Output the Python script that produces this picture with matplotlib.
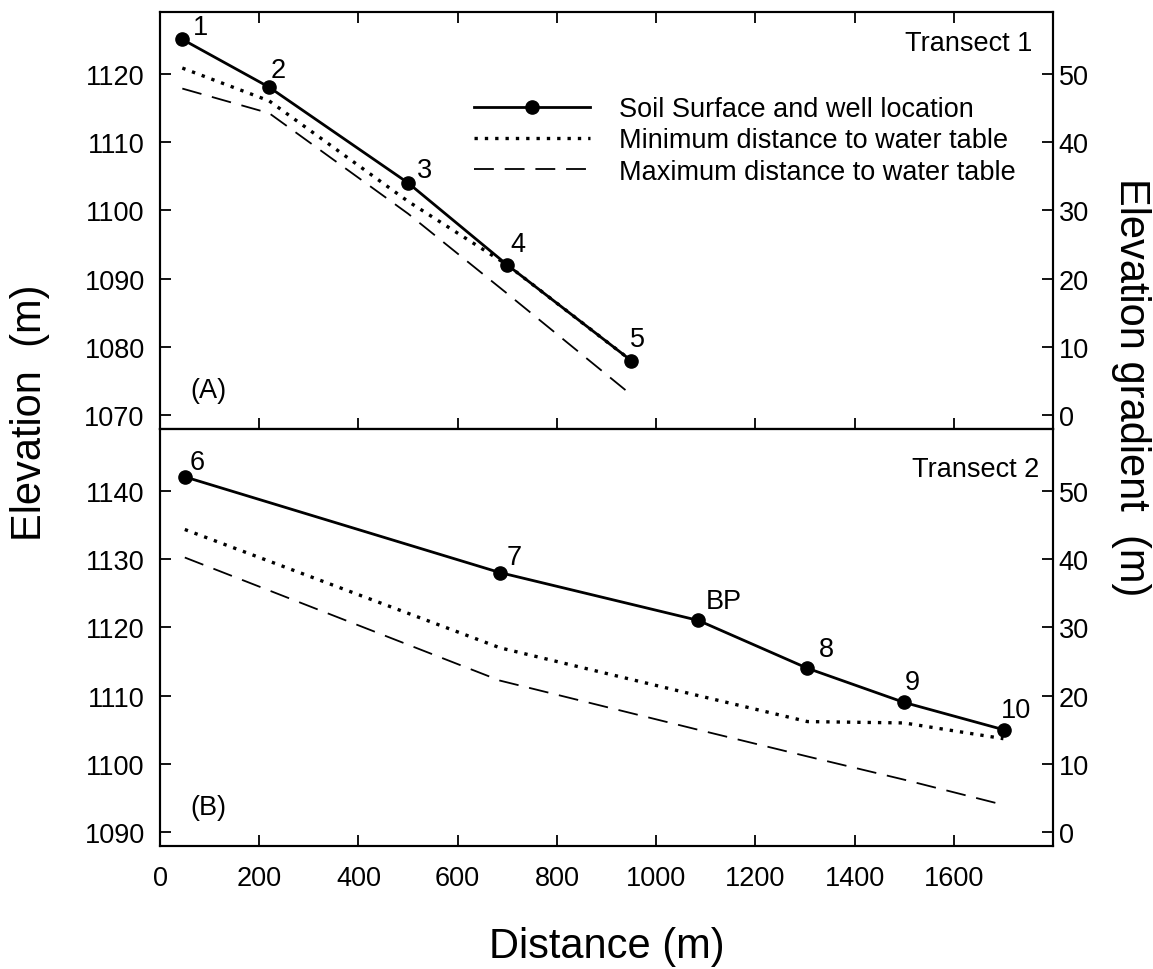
import matplotlib

matplotlib.use('Agg')
import matplotlib.pyplot as plt

plt.rcParams['font.family'] = ['Liberation Sans', 'DejaVu Sans']

# Transect 1: soil surface at the wells and water table envelope
t1_dist = [45, 220, 500, 700, 950]
t1_elev = [1125, 1118, 1104, 1092, 1078]
t1_wells = ['1', '2', '3', '4', '5']
t1_min_wt = [1120.8, 1116.0, 1101.3, 1092.0, 1078.0]
t1_max_wt = [1117.8, 1114.2, 1099.5, 1087.8, 1073.0]

# Transect 2
t2_dist = [50, 685, 1085, 1305, 1500, 1701]
t2_elev = [1142, 1128, 1121, 1114, 1109, 1105]
t2_wells = ['6', '7', 'BP', '8', '9', '10']
t2_min_dist = [50, 685, 1085, 1305, 1500, 1700]
t2_min_wt = [1134.3, 1117.0, 1110.0, 1106.2, 1106.0, 1103.7]
t2_max_dist = [50, 685, 1085, 1305, 1500, 1690]
t2_max_wt = [1130.2, 1112.2, 1105.0, 1101.1, 1097.7, 1094.2]

# elevation gradient axis = elevation - base
t1_base = 1070
t2_base = 1090

# pixel offsets of the well labels
t1_label_off = [(18, 12), (9, 17), (16, 13), (11, 21), (6, 22)]
t2_label_off = [(12, 15), (14, 16), (25, 19), (19, 19), (8, 20), (12, 20)]

FS = 19.5
W, H = 1153, 970


def fig_box(left, top, right, bottom):
    return [left / W, 1 - bottom / H, (right - left) / W, (bottom - top) / H]


def draw_panel(ax, dist, elev, wells, offs, min_dist, min_wt, max_dist, max_wt):
    ax.plot(dist, elev, color='black', linewidth=2.0, marker='o', markersize=9.5,
            label='Soil Surface and well location', zorder=3)
    ax.plot(min_dist, min_wt, color='black', linewidth=2.4, linestyle=(0, (1, 2.1)),
            label='Minimum distance to water table')
    ax.plot(max_dist, max_wt, color='black', linewidth=1.3, linestyle=(0, (11, 6)),
            label='Maximum distance to water table')
    for x, y, txt, off in zip(dist, elev, wells, offs):
        ax.annotate(txt, (x, y), xytext=(off[0], off[1]), textcoords='offset pixels',
                    ha='center', va='center', fontsize=FS)


def style_axes(ax, ylim, base, top_ticks, bottom_labels):
    ax.set_xlim(0, 1800)
    ax.set_ylim(*ylim)
    ax.set_xticks(range(0, 1801, 200))
    ax.set_xticklabels([str(v) for v in range(0, 1601, 200)] + [''])
    ax.set_yticks(range(ylim[0] + 2, ylim[1], 10))
    for sp in ax.spines.values():
        sp.set_linewidth(1.5)
    ax.tick_params(axis='both', direction='in', length=8, width=1.3, labelsize=FS)
    ax.tick_params(axis='y', pad=11)
    ax.tick_params(axis='x', pad=14, top=top_ticks, labelbottom=bottom_labels)
    rax = ax.twinx()
    rax.set_ylim(ylim[0] - base, ylim[1] - base)
    rax.set_yticks(range(0, 51, 10))
    rax.tick_params(axis='y', direction='in', length=8, width=1.3, labelsize=FS, pad=4)
    for sp in rax.spines.values():
        sp.set_linewidth(1.5)
    return rax


fig = plt.figure(figsize=(W / 100, H / 100), dpi=100)
axA = fig.add_axes(fig_box(160, 13, 1053, 430))
axB = fig.add_axes(fig_box(160, 430, 1053, 847))

draw_panel(axA, t1_dist, t1_elev, t1_wells, t1_label_off,
           t1_dist, t1_min_wt, t1_dist, t1_max_wt)
draw_panel(axB, t2_dist, t2_elev, t2_wells, t2_label_off,
           t2_min_dist, t2_min_wt, t2_max_dist, t2_max_wt)

style_axes(axA, (1068, 1129), t1_base, True, False)
style_axes(axB, (1088, 1149), t2_base, False, True)

axA.legend(loc='upper left', bbox_to_anchor=(474 / W, 1 - 97 / H), bbox_transform=fig.transFigure,
           frameon=False, borderpad=0, borderaxespad=0, handlelength=4.3, handletextpad=1.05,
           labelspacing=0.2, fontsize=FS, numpoints=1)

axA.text(0.977, 0.925, 'Transect 1', transform=axA.transAxes, ha='right', va='center', fontsize=FS)
axB.text(0.985, 0.905, 'Transect 2', transform=axB.transAxes, ha='right', va='center', fontsize=FS)
axA.text(0.034, 0.093, '(A)', transform=axA.transAxes, ha='left', va='center', fontsize=FS)
axB.text(0.034, 0.093, '(B)', transform=axB.transAxes, ha='left', va='center', fontsize=FS)

fig.text(30 / W, 1 - 413 / H, 'Elevation  (m)', rotation=90, ha='center', va='center', fontsize=30)
fig.text(1131 / W, 1 - 387 / H, 'Elevation gradient  (m)', rotation=-90, ha='center', va='center',
         fontsize=30)
fig.text(607 / W, 1 - 947 / H, 'Distance (m)', ha='center', va='center', fontsize=30)

fig.savefig('out.png', dpi=100)
